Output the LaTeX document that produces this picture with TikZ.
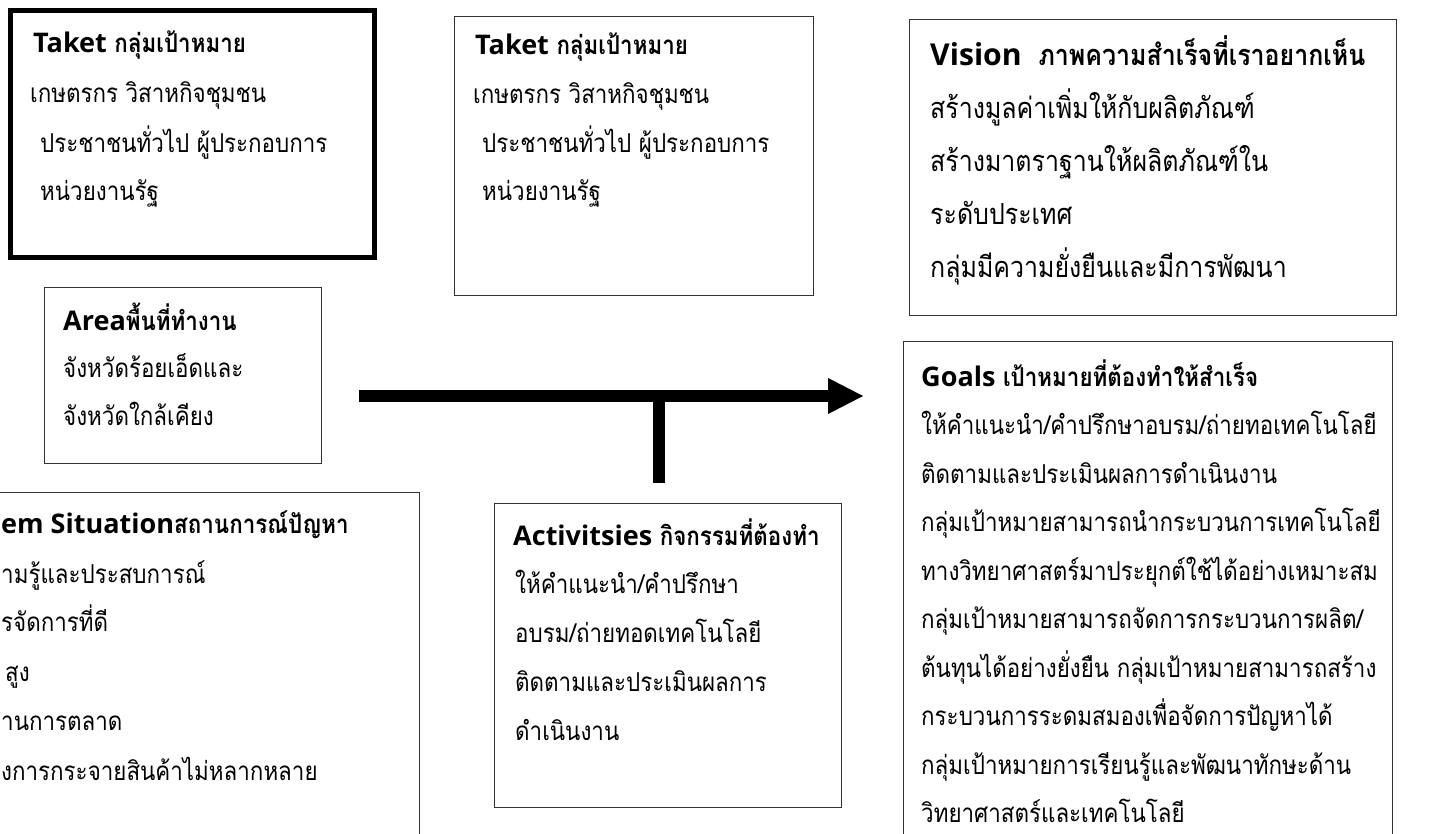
\documentclass[tikz,border=0pt]{standalone}
\usepackage{fontspec}
\setmainfont[Script=Thai, FakeStretch=0.86]{Loma}
\newfontfamily\lat[Scale=1.04]{Open Sans}
\tikzset{
  box/.style={draw=black!80, line width=1.3pt, inner sep=0pt, anchor=north west},
  thickbox/.style={draw=black, line width=5pt, inner sep=0pt, anchor=north west},
  txt/.style={anchor=base west, inner sep=0pt, font=\fontsize{26}{30}\selectfont},
  hd/.style={anchor=base west, inner sep=0pt, font=\fontsize{26}{30}\selectfont\bfseries},
  vtxt/.style={anchor=base west, inner sep=0pt, font=\fontsize{29}{33}\selectfont},
  vhd/.style={anchor=base west, inner sep=0pt, font=\fontsize{29}{33}\selectfont\bfseries},
  bigarrow/.style={line width=12pt, draw=black},
  shadowline/.style={line width=12pt, draw=black!18},
}
\begin{document}
\begin{tikzpicture}[x=1pt,y=-1pt]
\useasboundingbox (0,0) rectangle (1431,834);

% Box 1 (thick)
\node[thickbox, minimum width=364pt, minimum height=247pt] (b1) at (8,8) {};
\node[hd]  (b1h) at (33,53)  {{\lat Taket} กลุ่มเป้าหมาย};
\node[txt] (b1a) at (30,103) {เกษตรกร วิสาหกิจชุมชน};
\node[txt] (b1b) at (40,153) {ประชาชนทั่วไป ผู้ประกอบการ};
\node[txt] (b1c) at (40,201) {หน่วยงานรัฐ};

% Box 2
\node[box, minimum width=359pt, minimum height=279pt] (b2) at (454,16) {};
\node[hd]  (b2h) at (475,55)  {{\lat Taket} กลุ่มเป้าหมาย};
\node[txt] (b2a) at (473,104) {เกษตรกร วิสาหกิจชุมชน};
\node[txt] (b2b) at (482,153) {ประชาชนทั่วไป ผู้ประกอบการ};
\node[txt] (b2c) at (482,201) {หน่วยงานรัฐ};

% Vision
\node[box, minimum width=487pt, minimum height=296pt] (bv) at (909,19) {};
\node[vhd]  (bvh) at (930,66)  {{\lat Vision}\ \ ภาพความสำเร็จที่เราอยากเห็น};
\node[vtxt] (bva) at (930,119) {สร้างมูลค่าเพิ่มให้กับผลิตภัณฑ์};
\node[vtxt] (bvb) at (930,172) {สร้างมาตราฐานให้ผลิตภัณฑ์ใน};
\node[vtxt] (bvc) at (930,225) {ระดับประเทศ};
\node[vtxt] (bvd) at (930,277) {กลุ่มมีความยั่งยืนและมีการพัฒนา};

% Area
\node[box, minimum width=277pt, minimum height=176pt] (ba) at (44,287) {};
\node[hd]  (bah) at (63,330) {{\lat Area}พื้นที่ทำงาน};
\node[txt] (baa) at (63,377) {จังหวัดร้อยเอ็ดและ};
\node[txt] (bab) at (63,425) {จังหวัดใกล้เคียง};

% Problem situation (partly outside the page)
\node[box, minimum width=439pt, minimum height=360pt] (bp) at (-20,492) {};
\node[hd]  (bph) at (1,533) {{\lat em Situation}สถานการณ์ปัญหา};
\node[txt] (bpa) at (1,583) {ามรู้และประสบการณ์};
\node[txt] (bpb) at (1,631) {รจัดการที่ดี};
\node[txt] (bpc) at (5,681) {สูง};
\node[txt] (bpd) at (1,730) {านการตลาด};
\node[txt] (bpe) at (1,780) {งการกระจายสินค้าไม่หลากหลาย};

% Activities
\node[box, minimum width=347pt, minimum height=304pt] (bac) at (494,503) {};
\node[hd]  (bach) at (513,545) {{\lat Activitsies} กิจกรรมที่ต้องทำ};
\node[txt] (baca) at (515,593) {ให้คำแนะนำ/คำปรึกษา};
\node[txt] (bacb) at (515,642) {อบรม/ถ่ายทอดเทคโนโลยี};
\node[txt] (bacc) at (515,691) {ติดตามและประเมินผลการ};
\node[txt] (bacd) at (515,740) {ดำเนินงาน};

% Goals (runs past the bottom)
\node[box, minimum width=489pt, minimum height=520pt] (bg) at (903,341) {};
\node[hd]  (bgh) at (921,386)   {{\lat Goals} เป้าหมายที่ต้องทำให้สำเร็จ};
\node[txt] (bg1) at (921,434.5) {ให้คำแนะนำ/คำปรึกษาอบรม/ถ่ายทอเทคโนโลยี};
\node[txt] (bg2) at (921,483)   {ติดตามและประเมินผลการดำเนินงาน};
\node[txt] (bg3) at (921,531.5) {กลุ่มเป้าหมายสามารถนำกระบวนการเทคโนโลยี};
\node[txt] (bg4) at (921,580)   {ทางวิทยาศาสตร์มาประยุกต์ใช้ได้อย่างเหมาะสม};
\node[txt] (bg5) at (921,628.5) {กลุ่มเป้าหมายสามารถจัดการกระบวนการผลิต/};
\node[txt] (bg6) at (921,677)   {ต้นทุนได้อย่างยั่งยืน กลุ่มเป้าหมายสามารถสร้าง};
\node[txt] (bg7) at (921,725.5) {กระบวนการระดมสมองเพื่อจัดการปัญหาได้};
\node[txt] (bg8) at (921,774)   {กลุ่มเป้าหมายการเรียนรู้และพัฒนาทักษะด้าน};
\node[txt] (bg9) at (921,822.5) {วิทยาศาสตร์และเทคโนโลยี};

% Arrow
\coordinate (arS) at (359,396);
\coordinate (arB) at (828,396);
\coordinate (arT) at (863,396);
\coordinate (stT) at (659,396);
\coordinate (stB) at (659,483);
% faint shadow
\begin{scope}[shift={(2,3)}]
  \draw[shadowline] (arS) -- (arB);
  \fill[black!18] (arT) -- ([yshift=-18pt]arB) -- ([yshift=18pt]arB) -- cycle;
  \draw[shadowline] (stT) -- (stB);
\end{scope}
\draw[bigarrow] (arS) -- (arB);
\fill[black] (arT) -- ([yshift=-18pt]arB) -- ([yshift=18pt]arB) -- cycle;
\draw[bigarrow] (stT) -- (stB);
\end{tikzpicture}
\end{document}
